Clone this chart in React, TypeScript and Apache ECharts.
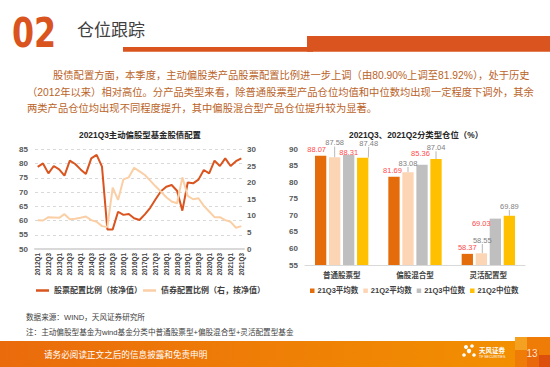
import React, { useEffect, useRef } from 'react';
import * as echarts from 'echarts';

// ---------- data ----------
const quarters = [
  '2012Q1', '2012Q2', '2012Q3', '2012Q4',
  '2013Q1', '2013Q2', '2013Q3', '2013Q4',
  '2014Q1', '2014Q2', '2014Q3', '2014Q4',
  '2015Q1', '2015Q2', '2015Q3', '2015Q4',
  '2016Q1', '2016Q2', '2016Q3', '2016Q4',
  '2017Q1', '2017Q2', '2017Q3', '2017Q4',
  '2018Q1', '2018Q2', '2018Q3', '2018Q4',
  '2019Q1', '2019Q2', '2019Q3', '2019Q4',
  '2020Q1', '2020Q2', '2020Q3', '2020Q4',
  '2021Q1', '2021Q2', '2021Q3',
];
const stockRatio = [
  78.9, 80.1, 76.6, 79.2, 78.0, 75.8, 81.1, 79.9, 78.0, 76.4,
  81.9, 83.1, 79.0, 56.9, 56.9, 63.1, 62.0, 62.3, 60.8, 60.2,
  62.2, 64.5, 67.5, 70.3, 71.9, 72.5, 70.5, 63.5, 73.4, 73.1,
  74.4, 77.8, 76.6, 81.1, 79.2, 81.9, 79.2, 80.9, 81.92,
];
const bondRatio = [
  8.7, 8.6, 9.6, 9.5, 9.4, 10.5, 9.0, 9.1, 9.4, 9.8,
  8.7, 8.2, 6.9, 6.6, 18.5, 14.8, 21.0, 21.6, 24.5, 23.4,
  22.3, 20.6, 18.9, 17.3, 15.6, 14.3, 13.8, 21.6, 16.0, 15.0,
  15.3, 13.0, 11.3, 9.6, 9.6, 8.7, 8.2, 6.4, 6.9,
];
const leftTicks = { min: 50, max: 85, step: 5 };
const rightTicks = { min: 0, max: 30, step: 5 };

const fundTypes = ['普通股票型', '偏股混合型', '灵活配置型'];
const q3Mean = [88.07, 81.69, 58.37];
const q2Mean = [87.58, 83.08, 58.55];
const q3Median = [88.31, 85.36, 69.03];
const q2Median = [87.48, 87.04, 69.89];
const barTicks = { min: 55, max: 90, step: 5 };

// ---------- layout / style ----------
const FONT = '"Liberation Sans", "Noto Sans CJK SC", sans-serif';
const CJK = '"Noto Sans CJK SC", "Liberation Sans", sans-serif';
const ORANGE = '#D9541E';
const LIGHT = '#FBCFA6';
const barColors = ['#E46C0A', '#FCD5B5', '#BFBFBF', '#FFC000'];
// label placement per bar series / category: [dx, centre offset from bar top]
const labelNudge = [
  [[-4, -6], [-1.5, -6], [0, -6.5]],
  [[0, -14.5], [0, -9], [1, -13]],
  [[0, -2.5], [-1.5, -11.5], [-14, 4.5]],
  [[6, -14.5], [0, -11.5], [0, -9.5]],
];

const paragraph = [
  { x: 53, y: 75, t: '股债配置方面，本季度，主动偏股类产品股票配置比例进一步上调（由80.90%上调至81.92%），处于历史' },
  { x: 27, y: 92, t: '（2012年以来）相对高位。分产品类型来看，除普通股票型产品仓位均值和中位数均出现一定程度下调外，其余' },
  { x: 27, y: 108.5, t: '两类产品仓位均出现不同程度提升，其中偏股混合型产品仓位提升较为显著。' },
];

export default function App() {
  const ref = useRef<HTMLDivElement>(null);
  useEffect(() => {
    if (!ref.current) return;
    const chart = echarts.init(ref.current, undefined, { renderer: 'svg' });
    const barNames = ['21Q3平均数', '21Q2平均数', '21Q3中位数', '21Q2中位数'];
    const barData = [q3Mean, q2Mean, q3Median, q2Median];

    const barSeries = barData.map((d, k) => ({
      name: barNames[k],
      type: 'bar',
      xAxisIndex: 1,
      yAxisIndex: 2,
      data: d,
      barWidth: 11.3,
      barGap: '24%',
      itemStyle: { color: barColors[k] },
      label: {
        show: true,
        position: 'top',
        fontSize: 7.5,
        fontFamily: FONT,
        color: k % 2 === 0 ? '#FF4B4B' : '#7F7F7F',
      },
      labelLine: k % 2 === 1
        ? { show: true, lineStyle: { color: '#A6A6A6', width: 0.8 } }
        : { show: false },
      labelLayout: (p: any) => {
        const r = p.rect;
        const top = Math.min(r.y, r.y + r.height);
        const cx = Math.min(r.x, r.x + r.width) + Math.abs(r.width) / 2;
        const [dx, dy] = labelNudge[k][p.dataIndex];
        return { x: cx + dx, y: top + dy, align: 'center', verticalAlign: 'middle' };
      },
    }));

    const txt = (x: number, y: number, text: string, font: string, fill: string, align = 'left') => ({
      type: 'text',
      style: { x, y, text, font, fill, textAlign: align, textVerticalAlign: 'middle' },
    });

    const graphics: any[] = [
      // header
      {
        type: 'text', x: 12, y: 33, scaleX: 0.86,
        style: {
          x: 0, y: 0, text: '02', fill: ORANGE, textAlign: 'left', textVerticalAlign: 'middle',
          font: `bold 41px "DejaVu Sans Condensed", "DejaVu Sans", sans-serif`,
        },
      },
      txt(77, 28, '仓位跟踪', `17px ${CJK}`, '#404040'),
      { type: 'rect', shape: { x: 123, y: 47, width: 190, height: 4.7 }, style: { fill: ORANGE } },
      { type: 'rect', shape: { x: 307, y: 36, width: 243, height: 15.7 }, style: { fill: ORANGE } },
      ...paragraph.map((p) => txt(p.x, p.y, p.t, `10.3px ${FONT}`, '#BA6328')),
      // chart titles
      txt(140, 135, '2021Q3主动偏股型基金股债配置', `bold 8.4px ${FONT}`, '#262626', 'center'),
      txt(416, 135, '2021Q3、2021Q2分类型仓位（%）', `bold 8.4px ${FONT}`, '#262626', 'center'),
      // sources
      txt(26, 317.5, '数据来源：WIND，天风证券研究所', `7.6px ${FONT}`, '#404040'),
      txt(26, 332.5, '注：主动偏股型基金为wind基金分类中普通股票型+偏股混合型+灵活配置型基金', `7.6px ${FONT}`, '#404040'),
      // footer
      {
        type: 'rect',
        shape: { x: 0, y: 341, width: 550, height: 26 },
        style: {
          fill: new echarts.graphic.LinearGradient(0, 0, 1, 0, [
            { offset: 0, color: '#EA6B0C' },
            { offset: 1, color: '#F39200' },
          ]),
        },
      },
      { type: 'rect', shape: { x: 515, y: 337, width: 35, height: 30 }, style: { fill: '#EE7C06' } },
      { type: 'rect', shape: { x: 515, y: 337, width: 12, height: 13 }, style: { fill: '#F4A020' } },
      { type: 'rect', shape: { x: 527, y: 350, width: 12, height: 17 }, style: { fill: '#E8680A' } },
      { type: 'rect', shape: { x: 539, y: 355, width: 11, height: 12 }, style: { fill: '#DD4F0C' } },
      txt(44, 353.5, '请务必阅读正文之后的信息披露和免责申明', `8.6px ${CJK}`, '#FFFFFF'),
      txt(532, 353.5, '13', `10px ${FONT}`, '#FDE3C6', 'center'),
      { type: 'circle', shape: { cx: 466, cy: 347, r: 2 }, style: { fill: '#FFFFFF' } },
      { type: 'circle', shape: { cx: 472, cy: 346, r: 1.8 }, style: { fill: '#FFFFFF' } },
      { type: 'circle', shape: { cx: 469, cy: 351, r: 2.2 }, style: { fill: '#FFFFFF' } },
      { type: 'circle', shape: { cx: 464, cy: 355, r: 1.8 }, style: { fill: '#FFFFFF' } },
      { type: 'circle', shape: { cx: 474, cy: 355, r: 1.8 }, style: { fill: '#FFFFFF' } },
      txt(479, 350, '天风证券', `bold 6.5px ${CJK}`, '#FFFFFF'),
      txt(479, 356.5, 'TF SECURITIES', `3.5px ${FONT}`, '#FFFFFF'),
    ];

    chart.setOption({
      animation: false,
      backgroundColor: '#FFFFFF',
      textStyle: { fontFamily: FONT },
      grid: [
        { left: 35, top: 149.5, width: 209, height: 99.5 },
        { left: 305, top: 149.3, width: 220, height: 115.7 },
      ],
      legend: [
        {
          data: ['股票配置比例（按净值）'],
          left: 31, top: 281.5, icon: 'rect', itemWidth: 13, itemHeight: 2.5,
          textStyle: { fontSize: 8, fontWeight: 'bold', color: '#404040', fontFamily: FONT },
        },
        {
          data: ['债券配置比例（右，按净值）'],
          left: 138, top: 281.5, icon: 'rect', itemWidth: 13, itemHeight: 2.5,
          textStyle: { fontSize: 8, fontWeight: 'bold', color: '#404040', fontFamily: FONT },
        },
        {
          data: barNames,
          left: 305, top: 282, icon: 'rect', itemWidth: 4.5, itemHeight: 4.5, itemGap: 5,
          textStyle: { fontSize: 7.5, fontWeight: 'bold', color: '#404040', fontFamily: FONT, padding: [0, 0, 0, -2] },
        },
      ],
      xAxis: [
        {
          type: 'category', gridIndex: 0, data: quarters, boundaryGap: true,
          axisLine: { lineStyle: { color: '#D9D9D9', width: 2 } },
          axisTick: { show: false },
          axisLabel: { interval: 1, rotate: 90, fontSize: 6.3, fontWeight: 'bold', color: '#404040', margin: 4 },
        },
        {
          type: 'category', gridIndex: 1, data: fundTypes,
          axisLine: { lineStyle: { color: '#D9D9D9', width: 1 } },
          axisTick: { show: false },
          axisLabel: { fontSize: 7.5, fontWeight: 'bold', color: '#404040', margin: 7 },
        },
      ],
      yAxis: [
        {
          type: 'value', gridIndex: 0, min: leftTicks.min, max: leftTicks.max, interval: leftTicks.step,
          axisLine: { show: false }, axisTick: { show: false },
          axisLabel: { fontSize: 8, fontWeight: 'bold', color: '#595959', margin: 7 },
          splitLine: { lineStyle: { color: '#D9D9D9', type: [3, 3], width: 1 } },
        },
        {
          type: 'value', gridIndex: 0, position: 'right', min: rightTicks.min, max: rightTicks.max, interval: rightTicks.step,
          axisLine: { show: false }, axisTick: { show: false },
          axisLabel: { fontSize: 8, fontWeight: 'bold', color: '#595959', margin: 3 },
          splitLine: { show: false },
        },
        {
          type: 'value', gridIndex: 1, min: barTicks.min, max: barTicks.max, interval: barTicks.step,
          axisLine: { show: false }, axisTick: { show: false },
          axisLabel: { fontSize: 8, fontWeight: 'bold', color: '#595959', margin: 7 },
          splitLine: { show: false },
        },
      ],
      series: [
        {
          name: '股票配置比例（按净值）', type: 'line', xAxisIndex: 0, yAxisIndex: 0,
          data: stockRatio, showSymbol: false, symbol: 'none',
          lineStyle: { color: ORANGE, width: 2 }, itemStyle: { color: ORANGE },
        },
        {
          name: '债券配置比例（右，按净值）', type: 'line', xAxisIndex: 0, yAxisIndex: 1,
          data: bondRatio, showSymbol: false, symbol: 'none',
          lineStyle: { color: LIGHT, width: 2 }, itemStyle: { color: LIGHT },
        },
        ...barSeries,
      ],
      graphic: graphics,
    } as any);
    return () => chart.dispose();
  }, []);
  return (
    <div
      ref={ref}
      style={{ position: 'absolute', left: 0, top: 0, width: 550, height: 367, background: '#fff' }}
    />
  );
}
